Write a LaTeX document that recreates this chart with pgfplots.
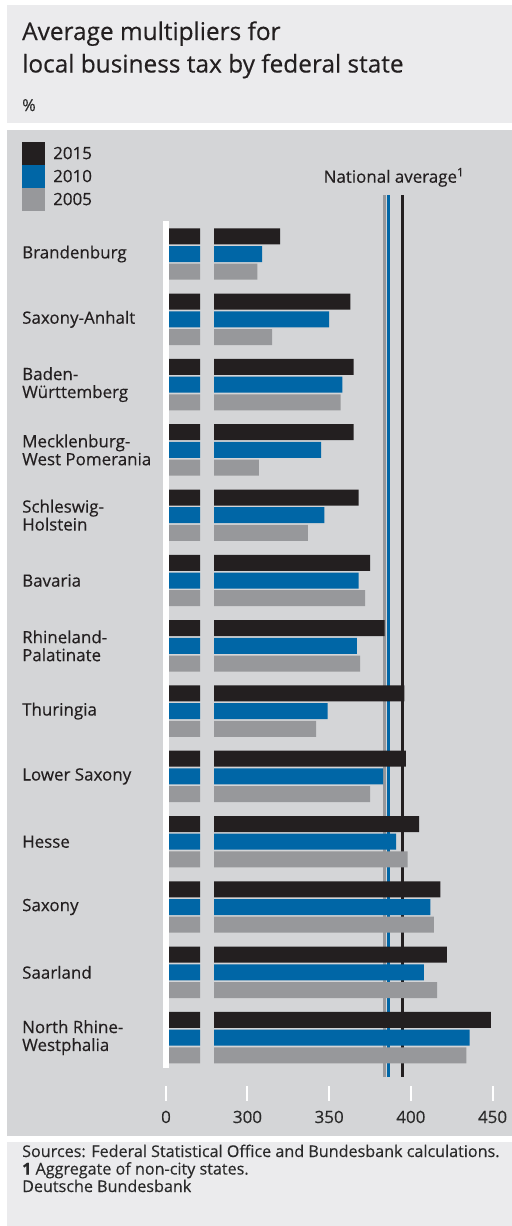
\documentclass[border=0pt]{standalone}
\usepackage{fontspec}
\setmainfont{Open Sans}[FakeBold=0.35]
\usepackage{pgfplots}
\usepackage{pgfplotstable}
\pgfplotsset{compat=1.18}
\definecolor{cblack}{HTML}{231F20}
\definecolor{cblue}{HTML}{0066A6}
\definecolor{cgray}{HTML}{97989B}
\definecolor{panel}{HTML}{D4D5D7}
\definecolor{lightpanel}{HTML}{EBEBED}
\definecolor{ctext}{HTML}{2A2A2A}

\pgfplotstableread{
idx y2015 y2010 y2005
0 320 309 306
1 363 350 315
2 365 358 357
3 365 345 307
4 368 347 337
5 375 368 372
6 384 367 369
7 396 349 342
8 397 383 375
9 405 391 398
10 418 412 414
11 422 408 416
12 449 436 434
}\data

\pgfplotsset{
  sq/.style={legend image code/.code={\fill[##1] (0bp,-11.5bp) rectangle (23bp,11.5bp);}},
  common/.style={
    scale only axis, anchor=south west, height=906bp,
    ymin=-0.9035, ymax=12.971, y dir=reverse,
    axis line style={draw=none},
    tick align=inside, major tick length=15bp,
    xtick pos=left, xticklabel pos=left,
    xtick style={white, line width=2bp},
    ytick style={draw=none},
    xticklabel style={font=\fontsize{17}{20}\selectfont, text=ctext, inner sep=0pt, anchor=base, yshift=-22bp},
    /pgf/number format/assume math mode=true,
  },
  b15/.style={xbar, bar width=16bp, bar shift=17.7bp, fill=cblack, draw=none},
  b10/.style={xbar, bar width=16bp, bar shift=0bp, fill=cblue, draw=none},
  b05/.style={xbar, bar width=16bp, bar shift=-17.7bp, fill=cgray, draw=none},
}

\begin{document}
\begin{tikzpicture}
\path[use as bounding box] (0,0) rectangle (512bp,-1226bp);
\fill[white] (0,0) rectangle (512bp,-1226bp);
\fill[lightpanel] (7bp,-5bp) rectangle (512bp,-123bp);
\fill[panel] (7bp,-130bp) rectangle (512bp,-1136bp);
\fill[lightpanel] (7bp,-1142bp) rectangle (512bp,-1226bp);

\node[anchor=base west, inner sep=0, font=\fontsize{24.5}{29}\selectfont, text=cblack] at (22bp,-40bp) {Average multipliers for};
\node[anchor=base west, inner sep=0, font=\fontsize{24.5}{29}\selectfont, text=cblack] at (22bp,-72.5bp) {local business tax by federal state};
\node[anchor=base west, inner sep=0, font=\fontsize{16.5}{18}\selectfont, text=ctext] at (22bp,-111bp) {\%};

\node[anchor=base, inner sep=0, font=\fontsize{17}{20}\selectfont, text=cblack] at (394bp,-182.7bp) {National average\textsuperscript{1}};

\node[anchor=base west, inner sep=0, font=\fontsize{16.2}{18}\selectfont, text=ctext] at (22bp,-1157bp) {Sources: Federal Statistical Office and Bundesbank calculations.};
\node[anchor=base west, inner sep=0, font=\fontsize{16.2}{18}\selectfont, text=ctext] at (22bp,-1174.5bp) {\textbf{1} Aggregate of non-city states.};
\node[anchor=base west, inner sep=0, font=\fontsize{16.2}{18}\selectfont, text=ctext] at (22bp,-1192bp) {Deutsche Bundesbank};

% main (broken) axis
\begin{axis}[common,
  at={(214bp,-1101bp)}, width=294.9bp,
  xmin=279.5, xmax=460,
  xtick={300,350,400,450}, ytick=\empty,
]
\addplot[cgray, line width=3bp] coordinates {(384,-0.9035) (384,12.6)};
\addplot[cblue, line width=3bp] coordinates {(386,-0.9035) (386,12.6)};
\addplot[cblack, line width=3bp] coordinates {(395,-0.9035) (395,12.6)};
\addplot[b15] table[x=y2015, y=idx] {\data};
\addplot[b10] table[x=y2010, y=idx] {\data};
\addplot[b05] table[x=y2005, y=idx] {\data};
\end{axis}

% stub axis from 0
\begin{axis}[common,
  at={(162.6bp,-1101bp)}, width=37.4bp,
  xmin=-10, xmax=100,
  xtick={0}, xticklabels={0},
  ytick={0,...,12},
  yticklabels={Brandenburg, Saxony-Anhalt, {Baden-\\Württemberg}, {Mecklenburg-\\West Pomerania}, {Schleswig-\\Holstein}, Bavaria, {Rhineland-\\Palatinate}, Thuringia, Lower Saxony, Hesse, Saxony, Saarland, {North Rhine-\\Westphalia}},
  yticklabel style={anchor=west, xshift=-140.6bp, align=left, inner sep=0pt, font=\fontsize{17}{18}\selectfont, text=cblack},
  legend style={at={(-3.759,1.0585)}, anchor=north west, draw=none, fill=none, inner sep=0pt, row sep=0pt, column sep=8bp, nodes={inner sep=0pt, font=\fontsize{17}{20}\selectfont, text=cblack}},
  legend cell align=left,
]
\addplot[b15, sq] table[x=y2015, y=idx] {\data};
\addlegendentry{2015}
\addplot[b10, sq] table[x=y2010, y=idx] {\data};
\addlegendentry{2010}
\addplot[b05, sq] table[x=y2005, y=idx] {\data};
\addlegendentry{2005}
\draw[white, line width=5.7bp] (axis cs:0,-0.5054) -- (axis cs:0,12.465);
\end{axis}
\end{tikzpicture}
\end{document}
